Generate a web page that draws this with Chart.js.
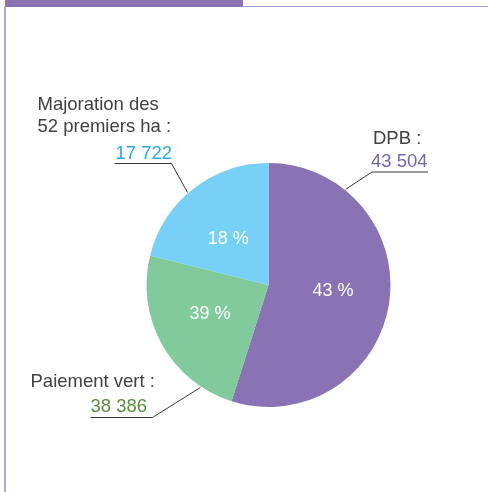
<!DOCTYPE html>
<html lang="fr">
<head>
    <meta charset="UTF-8">
    <title>Répartition des aides</title>
    <script src="https://cdn.jsdelivr.net/npm/chart.js"></script>
    <style>
        body {
            margin: 0;
            padding: 0;
            background: #fff;
            font-family: "Liberation Sans", Arial, sans-serif;
        }

        .frame {
            position: relative;
            width: 488px;
            height: 492px;
            overflow: hidden;
        }

        .top-bar {
            position: absolute;
            left: 5px;
            top: 0;
            width: 238px;
            height: 7px;
            background: #8a73b5;
        }

        .top-line {
            position: absolute;
            left: 243px;
            top: 6px;
            width: 245px;
            height: 1px;
            background: #a898d0;
        }

        .left-line {
            position: absolute;
            left: 4px;
            top: 7px;
            width: 2px;
            height: 485px;
            background: #b4a6dc;
        }

        canvas {
            position: absolute;
            left: 0;
            top: 0;
        }
    </style>
</head>
<body>

    <div class="frame">
        <div class="top-bar"></div>
        <div class="top-line"></div>
        <div class="left-line"></div>
        <canvas id="aidesChart" width="488" height="492"></canvas>
    </div>

    <script>
        // Categories, in drawing order (clockwise from 12 o'clock)
        const categories = ['DPB', 'Paiement vert', 'Majoration des 52 premiers ha'];
        // Amounts printed next to each slice
        const amounts = ['43 504', '38 386', '17 722'];
        // Percent labels printed inside the slices
        const pctLabels = ['43 %', '39 %', '18 %'];
        // Share of the circle each slice takes in the picture (%)
        const sliceShare = [54.9, 24.0, 21.1];

        const sliceColors = ['#8a73b5', '#80ca9c', '#77d0f5'];
        const amountColors = ['#7a63a9', '#5b8c3c', '#29aae2'];

        const FONT = '"Liberation Sans", Arial, sans-serif';
        const TEXT = '#404040';

        // small shifts of the percent labels away from the slice middle
        const pctShift = [[0.5, -5], [-2, -4.5], [-0.5, 3]];

        // Outer labels: title lines, amount, underline and leader, all relative to the pie centre
        const outerLabels = [
            { // DPB
                title: [{ text: 'DPB :', x: 104.5, y: -141 }],
                amount: { x: 102.5, y: -118 },
                line: [[159.5, -113], [103.5, -113]],
                edgeAngle: 38.9
            },
            { // Paiement vert
                title: [{ text: 'Paiement vert :', x: -238, y: 102 }],
                amount: { x: -178, y: 127 },
                line: [[-178, 132.5], [-116, 132.5]],
                edgeAngle: 213.6
            },
            { // Majoration
                title: [
                    { text: 'Majoration des', x: -231, y: -175 },
                    { text: '52 premiers ha :', x: -231, y: -153 }
                ],
                amount: { x: -96.5, y: -126.5, right: true },
                line: [[-154, -121.5], [-97, -121.5]],
                edgeAngle: 318.8
            }
        ];

        const labelPlugin = {
            id: 'pieLabels',
            afterDatasetsDraw(chart) {
                const ctx = chart.ctx;
                const arcs = chart.getDatasetMeta(0).data;
                const cx = arcs[0].x;
                const cy = arcs[0].y;
                const R = arcs[0].outerRadius;

                ctx.save();
                ctx.textBaseline = 'alphabetic';

                // percent labels inside the slices
                ctx.fillStyle = '#ffffff';
                ctx.font = '18px ' + FONT;
                ctx.textAlign = 'center';
                arcs.forEach((arc, i) => {
                    const mid = (arc.startAngle + arc.endAngle) / 2;
                    const r = R * 0.53;
                    const x = cx + Math.cos(mid) * r + pctShift[i][0];
                    const y = cy + Math.sin(mid) * r + pctShift[i][1];
                    ctx.fillText(pctLabels[i], x, y + 6.5);
                });

                // outer labels with leader lines
                outerLabels.forEach((lab, i) => {
                    ctx.font = '18.5px ' + FONT;
                    ctx.fillStyle = TEXT;
                    ctx.textAlign = 'left';
                    lab.title.forEach(t => ctx.fillText(t.text, cx + t.x, cy + t.y));

                    ctx.fillStyle = amountColors[i];
                    ctx.textAlign = lab.amount.right ? 'right' : 'left';
                    ctx.fillText(amounts[i], cx + lab.amount.x, cy + lab.amount.y);

                    const a = (lab.edgeAngle - 90) * Math.PI / 180;
                    const ex = cx + Math.cos(a) * (R + 1);
                    const ey = cy + Math.sin(a) * (R + 1);
                    ctx.strokeStyle = '#3a3a3a';
                    ctx.lineWidth = 1;
                    ctx.beginPath();
                    ctx.moveTo(cx + lab.line[0][0], cy + lab.line[0][1]);
                    ctx.lineTo(cx + lab.line[1][0], cy + lab.line[1][1]);
                    ctx.lineTo(ex, ey);
                    ctx.stroke();
                });

                ctx.restore();
            }
        };

        const ctx = document.getElementById('aidesChart').getContext('2d');
        new Chart(ctx, {
            type: 'pie',
            data: {
                labels: categories,
                datasets: [{
                    data: sliceShare,
                    backgroundColor: sliceColors,
                    borderWidth: 0
                }]
            },
            options: {
                responsive: false,
                animation: false,
                layout: {
                    padding: { left: 146.5, right: 97.5, top: 163, bottom: 85 }
                },
                plugins: {
                    legend: { display: false },
                    tooltip: { enabled: false }
                }
            },
            plugins: [labelPlugin]
        });
    </script>

</body>
</html>
